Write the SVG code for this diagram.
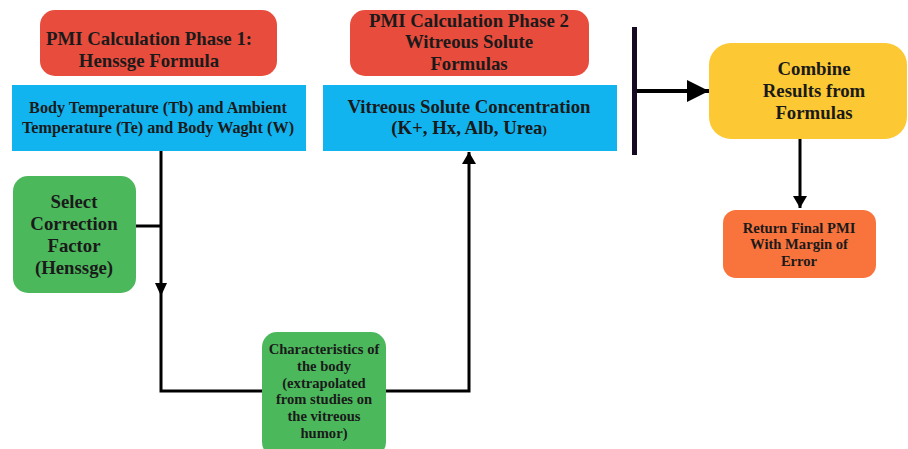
<svg xmlns="http://www.w3.org/2000/svg" width="908" height="449" viewBox="0 0 908 449">
<style>
text{font-family:"Liberation Serif","Times New Roman",serif;font-weight:bold;fill:#1a1a1a;text-anchor:middle}
.t17{font-size:18.8px}
.t14{font-size:16.2px}
.t13{font-size:14.6px}
.line{fill:none;stroke:#000;stroke-width:3}
</style>
<defs>
<marker id="ahs" markerWidth="12" markerHeight="14" refX="12" refY="7" orient="auto" markerUnits="userSpaceOnUse">
<path d="M0,0 L12,7 L0,14 Z" fill="#000"/>
</marker>
<marker id="ahb" markerWidth="22" markerHeight="22" refX="22" refY="11" orient="auto" markerUnits="userSpaceOnUse">
<path d="M0,0 L22,11 L0,22 Z" fill="#000"/>
</marker>
</defs>
<rect width="908" height="449" fill="#fff"/>
<g id="connectors">
<path class="line" d="M136,226 H161"/>
<path class="line" d="M161,151 V391 H263"/>
<path d="M155,283 L167,283 L161,296 Z" fill="#000"/>
<path class="line" d="M386,391 H469 V152" marker-end="url(#ahs)"/>
<rect x="632" y="27" width="5" height="128" fill="#160a22"/>
<path fill="none" stroke="#000" stroke-width="4" d="M637,91 H709" marker-end="url(#ahb)"/>
<path class="line" d="M800,139 V208" marker-end="url(#ahs)"/>
</g>
<g id="phase1">
<rect x="40" y="10" width="237" height="66" rx="15" fill="#E84C3D"/>
<text class="t17" x="149" y="45">PMI Calculation Phase 1:</text>
<text class="t17" x="149" y="67">Henssge Formula</text>
</g>
<g id="body-temp">
<rect x="12" y="85" width="294" height="66" fill="#12B4F0"/>
<text class="t14" x="158" y="113">Body Temperature (Tb) and Ambient</text>
<text class="t14" x="158" y="133">Temperature (Te) and Body Waght (W)</text>
</g>
<g id="phase2">
<rect x="350" y="10" width="239" height="66" rx="15" fill="#E84C3D"/>
<text class="t17" x="469" y="27">PMI Calculation Phase 2</text>
<text class="t17" x="469" y="48">Witreous Solute</text>
<text class="t17" x="469" y="70">Formulas</text>
</g>
<g id="vitreous">
<rect x="323" y="85" width="294" height="66" fill="#12B4F0"/>
<text class="t17" x="469" y="113">Vitreous Solute Concentration</text>
<text class="t17" x="469" y="134">(K+, Hx, Alb, Urea<tspan font-size="13px">)</tspan></text>
</g>
<g id="combine">
<rect x="709" y="43" width="198" height="96" rx="22" fill="#FCC934"/>
<text class="t17" x="814" y="75">Combine</text>
<text class="t17" x="814" y="97">Results from</text>
<text class="t17" x="814" y="119">Formulas</text>
</g>
<g id="return">
<rect x="723" y="210" width="153" height="68" rx="13" fill="#F9733D"/>
<text class="t13" x="799" y="233">Return Final PMI</text>
<text class="t13" x="799" y="249">With Margin of</text>
<text class="t13" x="799" y="266">Error</text>
</g>
<g id="select">
<rect x="13" y="176" width="123" height="117" rx="15" fill="#4CB85C"/>
<text class="t17" x="74" y="208">Select</text>
<text class="t17" x="74" y="230">Correction</text>
<text class="t17" x="74" y="252">Factor</text>
<text class="t17" x="74" y="274">(Henssge)</text>
</g>
<g id="characteristics">
<rect x="262" y="332" width="124" height="125" rx="15" fill="#4CB85C"/>
<text class="t13" x="324" y="354">Characteristics of</text>
<text class="t13" x="324" y="371">the body</text>
<text class="t13" x="324" y="388">(extrapolated</text>
<text class="t13" x="324" y="404">from studies on</text>
<text class="t13" x="324" y="421">the vitreous</text>
<text class="t13" x="324" y="438">humor)</text>
</g>
</svg>
